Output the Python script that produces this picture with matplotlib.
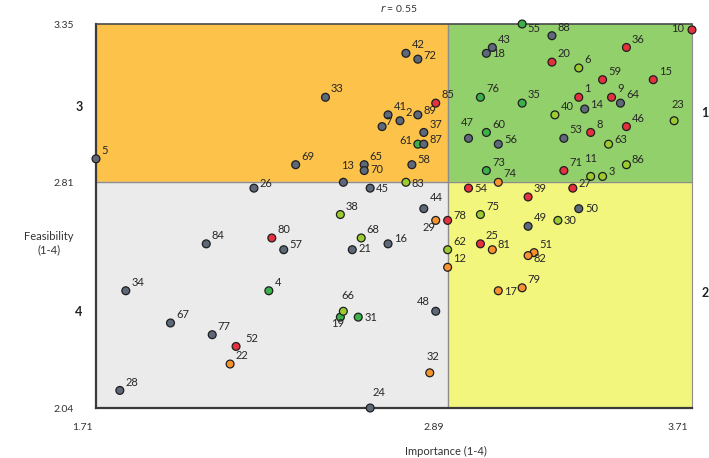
import matplotlib
matplotlib.use("Agg")
import matplotlib.pyplot as plt
from matplotlib.patches import Rectangle
from matplotlib.transforms import ScaledTranslation

plt.rcParams['font.family'] = ['Lato', 'DejaVu Sans']

# item id, importance (x), feasibility (y), colour group
ids = list(range(1, 90))
importance = [3.33, 2.73, 3.41, 2.29, 1.71, 3.33, 2.67, 3.37, 3.44, 3.71,
              3.37, 2.89, 2.54, 3.35, 3.58, 2.69, 3.06, 3.02, 2.53, 3.24,
              2.57, 2.16, 3.65, 2.63, 3.00, 2.24, 3.31, 1.79, 2.85, 3.26,
              2.59, 2.83, 2.48, 1.81, 3.14, 3.49, 2.81, 2.53, 3.16, 3.25,
              2.69, 2.75, 3.04, 2.81, 2.63, 3.49, 2.96, 2.85, 3.16, 3.33,
              3.18, 2.18, 3.28, 2.96, 3.14, 3.06, 2.34, 2.77, 3.41, 3.02,
              2.79, 2.89, 3.43, 3.47, 2.61, 2.54, 1.96, 2.60, 2.38, 2.61,
              3.28, 2.79, 3.02, 3.06, 3.00, 3.00, 2.10, 2.89, 3.14, 2.30,
              3.04, 3.16, 2.75, 2.08, 2.85, 3.49, 2.81, 3.24, 2.79]
feasibility = [3.10, 3.02, 2.83, 2.44, 2.89, 3.20, 3.00, 2.98, 3.10, 3.33,
               2.83, 2.52, 2.81, 3.06, 3.16, 2.60, 2.44, 3.25, 2.35, 3.22,
               2.58, 2.19, 3.02, 2.04, 2.60, 2.79, 2.79, 2.10, 2.68, 2.68,
               2.35, 2.16, 3.10, 2.44, 3.08, 3.27, 2.98, 2.70, 2.76, 3.04,
               3.04, 3.25, 3.27, 2.72, 2.79, 3.00, 2.96, 2.37, 2.66, 2.72,
               2.57, 2.25, 2.96, 2.79, 3.35, 2.94, 2.58, 2.87, 3.16, 2.98,
               2.94, 2.58, 2.94, 3.08, 2.87, 2.37, 2.33, 2.62, 2.87, 2.85,
               2.85, 3.23, 2.85, 2.81, 2.70, 3.10, 2.29, 2.68, 2.45, 2.62,
               2.58, 2.56, 2.81, 2.60, 3.08, 2.87, 2.94, 3.31, 3.04]
groups = ['r', 'g', 'y', 'n', 'g', 'y', 'g', 'r', 'r', 'r',
          'y', 'o', 'g', 'g', 'r', 'g', 'o', 'g', 'n', 'r',
          'g', 'o', 'y', 'g', 'r', 'g', 'r', 'g', 'o', 'y',
          'n', 'o', 'g', 'g', 'n', 'r', 'g', 'y', 'r', 'y',
          'g', 'g', 'g', 'g', 'g', 'r', 'g', 'g', 'g', 'g',
          'o', 'r', 'g', 'r', 'n', 'g', 'g', 'g', 'r', 'n',
          'n', 'y', 'y', 'g', 'g', 'y', 'g', 'y', 'g', 'g',
          'r', 'g', 'n', 'o', 'y', 'n', 'g', 'r', 'o', 'r',
          'o', 'o', 'y', 'g', 'r', 'y', 'g', 'g', 'g']

x_min, x_mid, x_max = 1.71, 2.89, 3.71
y_min, y_mid, y_max = 2.04, 2.81, 3.35
r_value = 0.55

colors = {'g': '#5d6878', 'r': '#e3313d', 'n': '#3cb04a',
          'y': '#9bcb2e', 'o': '#f7922f'}

# label placement (offset in points, ha)
default_pos = (4, 6, 'left')
label_pos = {
    3: (4, 3.5, 'left'), 14: (4, 3.5, 'left'), 16: (4, 3.5, 'left'),
    26: (4, 3.5, 'left'), 27: (4, 3, 'left'), 56: (4, 3.5, 'left'),
    57: (4, 3.5, 'left'), 58: (4, 3.5, 'left'), 63: (4, 3.5, 'left'),
    72: (4, 3, 'left'), 78: (4, 3.5, 'left'), 81: (4, 3.5, 'left'),
    86: (4, 3.5, 'left'), 87: (4, 3.5, 'left'), 89: (4, 3.5, 'left'),
    7: (2.5, 4, 'left'),
    17: (4.5, -0.5, 'left'), 18: (4, 0, 'left'), 21: (4.5, 1, 'left'),
    30: (4, 0, 'left'), 31: (4.5, 0, 'left'), 45: (4, 0, 'left'),
    50: (4.5, 0, 'left'), 54: (4.5, 0, 'left'), 70: (4.5, 1, 'left'),
    83: (4, -1, 'left'), 55: (4, -3, 'left'), 82: (4, -2, 'left'),
    52: (7, 6, 'left'), 44: (4, 8, 'left'),
    11: (0, 13, 'center'), 13: (3.3, 12, 'center'), 23: (3, 12, 'center'),
    24: (6, 11, 'center'), 32: (2, 12, 'center'), 47: (-1, 11.5, 'center'),
    66: (3.6, 11, 'center'), 19: (-2, -4.6, 'center'), 29: (-4.5, -5, 'center'),
    48: (-4, 7, 'right'), 61: (-4, 3, 'right'), 10: (-6, 1, 'right'),
}

fig = plt.figure(figsize=(7.09, 4.58), dpi=100)
ax = fig.add_axes([96 / 709, 1 - 408 / 458, 596 / 709, 384 / 458])
ax.set_xlim(x_min, x_max)
ax.set_ylim(y_min, y_max)

# quadrant backgrounds
ax.add_patch(Rectangle((x_min, y_mid), x_mid - x_min, y_max - y_mid, color='#fcc24a', zorder=0))
ax.add_patch(Rectangle((x_mid, y_mid), x_max - x_mid, y_max - y_mid, color='#92d06b', zorder=0))
ax.add_patch(Rectangle((x_min, y_min), x_mid - x_min, y_mid - y_min, color='#ebebeb', zorder=0))
ax.add_patch(Rectangle((x_mid, y_min), x_max - x_mid, y_mid - y_min, color='#f2f67c', zorder=0))
ax.axvline(x_mid, color='#8c8c8c', lw=1, zorder=1)
ax.axhline(y_mid, color='#8c8c8c', lw=1, zorder=1)

ax.scatter(importance, feasibility, s=32, c=[colors[g] for g in groups],
           edgecolors='#1e1e1e', linewidths=0.9, zorder=3, clip_on=False)

for i, x, y in zip(ids, importance, feasibility):
    dx, dy, ha = label_pos.get(i, default_pos)
    ax.annotate(str(i), (x, y), xytext=(dx, dy), textcoords='offset points',
                ha=ha, va='center', fontsize=8, color='#262626', zorder=4)

for side in ['left', 'bottom']:
    ax.spines[side].set_color('#3a3a3a')
    ax.spines[side].set_linewidth(1.6)
ax.spines['top'].set_color('#4a4a4a')
ax.spines['top'].set_linewidth(1.2)
ax.spines['right'].set_color('#8c8c8c')
ax.spines['right'].set_linewidth(0.8)

ax.set_xticks([x_min, x_mid, x_max])
ax.set_xticklabels([f'{v:.2f}' for v in [x_min, x_mid, x_max]])
ax.set_yticks([y_min, y_mid, y_max])
ax.set_yticklabels([f'{v:.2f}' for v in [y_min, y_mid, y_max]])
ax.tick_params(length=0, labelsize=7.5, colors='#333333')
ax.tick_params(axis='x', pad=11)
ax.tick_params(axis='y', pad=16)
for lab in ax.get_xticklabels():
    lab.set_transform(lab.get_transform() + ScaledTranslation(-0.14, 0, fig.dpi_scale_trans))

# quadrant numbers
quad_labels = [('3', -0.0285, 3.067), ('4', -0.0285, 2.367),
               ('1', 1.022, 3.046), ('2', 1.022, 2.432)]
for txt, xa, yv in quad_labels:
    ax.text(xa, (yv - y_min) / (y_max - y_min), txt, transform=ax.transAxes,
            ha='center', va='center', fontsize=9, fontweight='bold', color='#222222')

fig.text(49 / 709, 1 - 243 / 458, 'Feasibility\n(1-4)', ha='center', va='center',
         fontsize=8, color='#333333', linespacing=1.3)
fig.text(446 / 709, 1 - 451 / 458, 'Importance (1-4)', ha='center', va='center',
         fontsize=8, color='#333333')
fig.text(399 / 709, 1 - 8 / 458, f'$r$ = {r_value:.2f}', ha='center', va='center',
         fontsize=7.5, color='#333333')

fig.savefig('out.png', dpi=100)
